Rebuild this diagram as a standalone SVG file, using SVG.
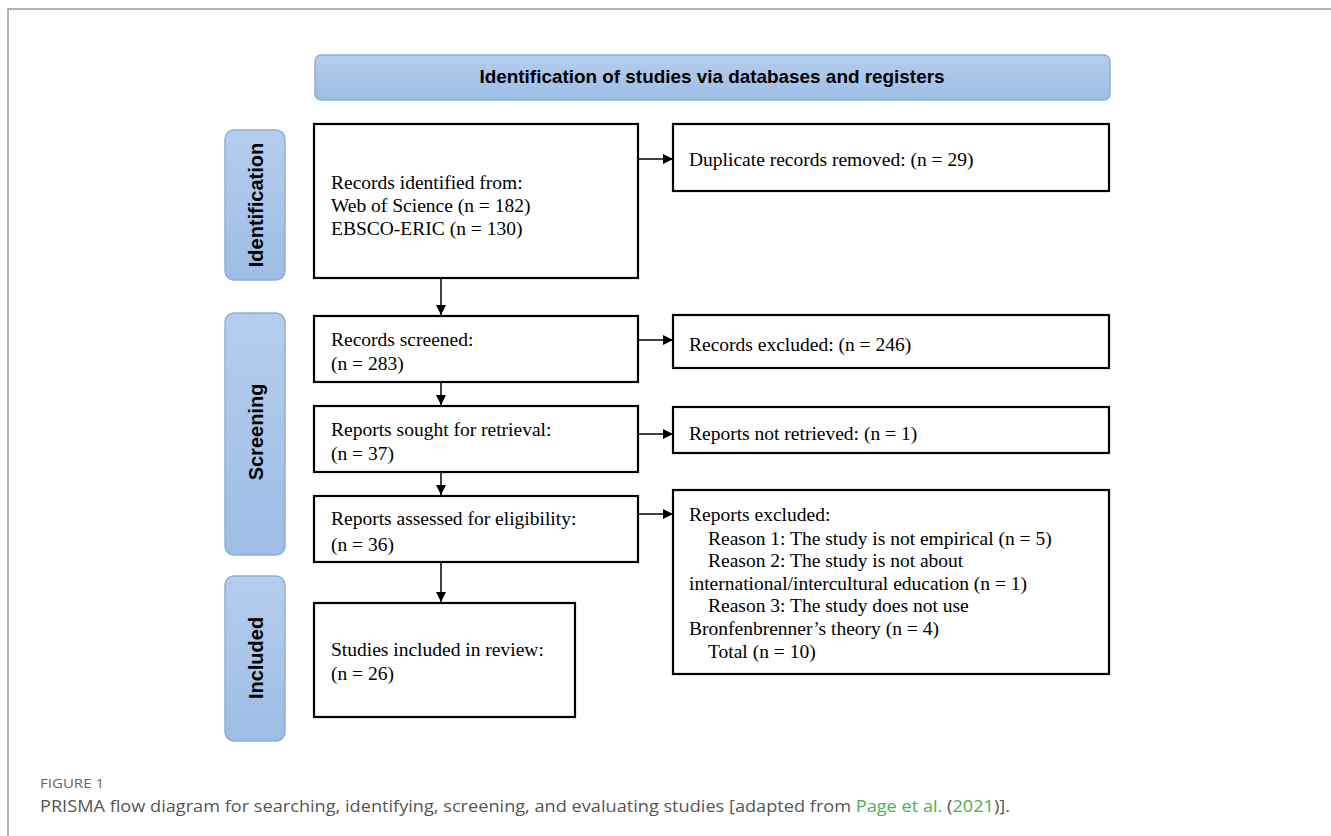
<svg xmlns="http://www.w3.org/2000/svg" width="1331" height="836" viewBox="0 0 1331 836">
<style>
.box{fill:#fff;stroke:#000;stroke-width:2.2}
.t{font-family:"Liberation Serif","Times New Roman",serif;font-size:19.5px;fill:#000}
.side{fill:url(#bg);stroke:#8fb0d8;stroke-width:1.5}
.sl{font-family:"Liberation Sans",Arial,sans-serif;font-weight:bold;font-size:20px;fill:#000}
.c{stroke:#000;stroke-width:1.5;fill:none}
</style>
<defs>
<linearGradient id="bg" x1="0" y1="0" x2="0" y2="1">
<stop offset="0" stop-color="#b5cdec"/><stop offset="1" stop-color="#9dbde6"/>
</linearGradient>
<marker id="ah" viewBox="0 0 10 10" refX="10" refY="5" markerWidth="10" markerHeight="10" markerUnits="userSpaceOnUse" orient="auto">
<path d="M0,0 L10,5 L0,10 z" fill="#000"/>
</marker>
</defs>
<rect width="1331" height="836" fill="#fff"/>
<path d="M8,836 V9 H1331" fill="none" stroke="#9a9a9a" stroke-width="1.5"/>
<g id="header">
<rect x="315" y="55" width="795" height="45" rx="6" class="side"/>
<text x="712" y="83" text-anchor="middle" font-family="'Liberation Sans Narrow','Liberation Sans',Arial,sans-serif" font-weight="bold" font-size="19" textLength="465" lengthAdjust="spacingAndGlyphs">Identification of studies via databases and registers</text>
</g>
<g id="lbl-identification">
<rect x="225" y="130" width="60" height="150" rx="9" class="side"/>
<text class="sl" transform="translate(263,205) rotate(-90)" text-anchor="middle">Identification</text>
</g>
<g id="lbl-screening">
<rect x="225" y="313" width="60" height="242" rx="9" class="side"/>
<text class="sl" transform="translate(263,432) rotate(-90)" text-anchor="middle">Screening</text>
</g>
<g id="lbl-included">
<rect x="225" y="576" width="60" height="165" rx="9" class="side"/>
<text class="sl" transform="translate(263,658) rotate(-90)" text-anchor="middle">Included</text>
</g>
<g id="n-identified">
<rect x="314" y="124" width="324" height="154" class="box"/>
<text class="t" x="331" y="189">Records identified from:</text>
<text class="t" x="331" y="212">Web of Science (n = 182)</text>
<text class="t" x="331" y="235">EBSCO-ERIC (n = 130)</text>
</g>
<g id="n-duplicates">
<rect x="673" y="124" width="436" height="67" class="box"/>
<text class="t" x="689" y="166">Duplicate records removed: (n = 29)</text>
</g>
<g id="n-screened">
<rect x="314" y="316" width="324" height="66" class="box"/>
<text class="t" x="331" y="346">Records screened:</text>
<text class="t" x="331" y="370">(n = 283)</text>
</g>
<g id="n-excluded">
<rect x="673" y="315" width="436" height="53" class="box"/>
<text class="t" x="689" y="351">Records excluded: (n = 246)</text>
</g>
<g id="n-sought">
<rect x="314" y="406" width="324" height="66" class="box"/>
<text class="t" x="331" y="436">Reports sought for retrieval:</text>
<text class="t" x="331" y="460">(n = 37)</text>
</g>
<g id="n-notretrieved">
<rect x="673" y="407" width="436" height="46" class="box"/>
<text class="t" x="689" y="440">Reports not retrieved: (n = 1)</text>
</g>
<g id="n-assessed">
<rect x="314" y="496" width="324" height="66" class="box"/>
<text class="t" x="331" y="525">Reports assessed for eligibility:</text>
<text class="t" x="331" y="551">(n = 36)</text>
</g>
<g id="n-reportsexcluded">
<rect x="673" y="490" width="436" height="184" class="box"/>
<text class="t" x="689" y="521">Reports excluded:</text>
<text class="t" x="708" y="545">Reason 1: The study is not empirical (n = 5)</text>
<text class="t" x="708" y="567">Reason 2: The study is not about</text>
<text class="t" x="689" y="590">international/intercultural education (n = 1)</text>
<text class="t" x="708" y="612">Reason 3: The study does not use</text>
<text class="t" x="689" y="635">Bronfenbrenner’s theory (n = 4)</text>
<text class="t" x="708" y="658">Total (n = 10)</text>
</g>
<g id="n-included">
<rect x="314" y="603" width="261" height="114" class="box"/>
<text class="t" x="331" y="656">Studies included in review:</text>
<text class="t" x="331" y="680">(n = 26)</text>
</g>
<g id="connectors">
<line class="c" x1="639" y1="159" x2="673" y2="159" marker-end="url(#ah)"/>
<line class="c" x1="441" y1="279" x2="441" y2="315" marker-end="url(#ah)"/>
<line class="c" x1="639" y1="340" x2="673" y2="340" marker-end="url(#ah)"/>
<line class="c" x1="441" y1="383" x2="441" y2="405" marker-end="url(#ah)"/>
<line class="c" x1="639" y1="434" x2="673" y2="434" marker-end="url(#ah)"/>
<line class="c" x1="441" y1="473" x2="441" y2="495" marker-end="url(#ah)"/>
<line class="c" x1="639" y1="514" x2="673" y2="514" marker-end="url(#ah)"/>
<line class="c" x1="441" y1="563" x2="441" y2="602" marker-end="url(#ah)"/>
</g>
<g id="caption">
<text x="40" y="788" font-family="'Open Sans','Liberation Sans',sans-serif" font-size="12" fill="#666" textLength="64" lengthAdjust="spacingAndGlyphs">FIGURE 1</text>
<text x="40" y="812" font-family="'Open Sans','Liberation Sans',sans-serif" font-size="17" fill="#555" textLength="970" lengthAdjust="spacingAndGlyphs">PRISMA flow diagram for searching, identifying, screening, and evaluating studies [adapted from <tspan fill="#4caf50">Page et al.</tspan> (<tspan fill="#4caf50">2021</tspan>)].</text>
</g>
</svg>
